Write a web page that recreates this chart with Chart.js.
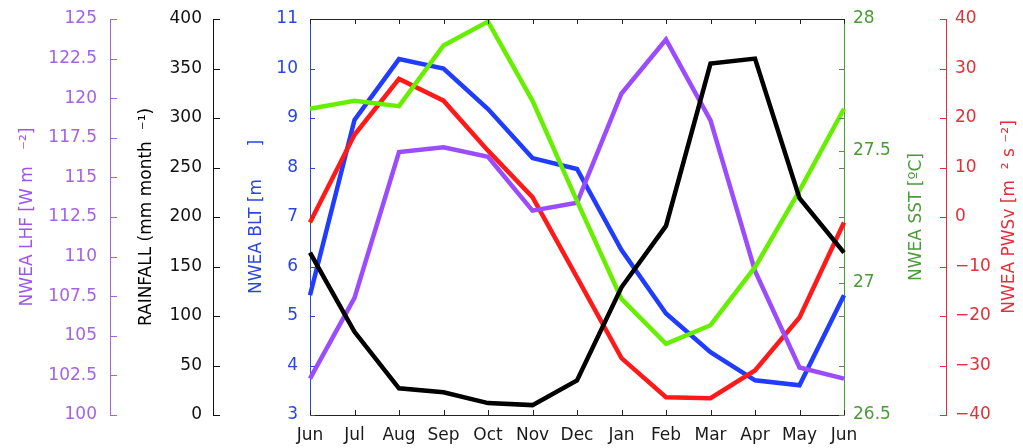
<!DOCTYPE html>
<html>
<head>
<meta charset="utf-8">
<script src="https://cdn.jsdelivr.net/npm/chart.js@4.4.1/dist/chart.umd.min.js"></script>
<style>
  html, body { margin: 0; padding: 0; background: #fff; }
  #wrap { width: 1023px; height: 448px; }
</style>
</head>
<body>
<div id="wrap"><canvas id="nweaChart" width="1023" height="448"></canvas></div>
<script>
const months = ['Jun', 'Jul', 'Aug', 'Sep', 'Oct', 'Nov', 'Dec', 'Jan', 'Feb', 'Mar', 'Apr', 'May', 'Jun'];

// values
const lhf = [102.3, 107.4, 116.6, 116.9, 116.3, 112.9, 113.4, 120.3, 123.7, 118.6, 109.1, 103.0, 102.3];
const rainfall = [164, 84, 27, 23, 12, 10, 35, 129, 191, 355, 360, 219, 164];
const blt = [5.42, 8.96, 10.19, 10.0, 9.18, 8.19, 7.97, 6.33, 5.05, 4.27, 3.7, 3.6, 5.42];
const sst = [27.66, 27.69, 27.67, 27.9, 27.99, 27.69, 27.31, 26.94, 26.77, 26.84, 27.06, 27.35, 27.66];
const pwsv = [-1.1, 16.6, 27.9, 23.5, 13.4, 4.0, -12.2, -28.5, -36.4, -36.6, -31, -20.3, -1.1];

const FONT = '"DejaVu Sans", sans-serif';

const colors = {
    lhf: { line: '#9b4cff', axis: '#a463e6' },
    rain: { line: '#000000', axis: '#111111' },
    blt: { line: '#1f3cff', axis: '#2a46e0' },
    sst: { line: '#66f000', axis: '#4c9a38' },
    pwsv: { line: '#ff1a1a', axis: '#e2303a' }
};

// fixed box widths so the axes sit where they do in the figure
function fixWidth(w) {
    return (scale) => {
        scale.width = w;
        scale.paddingTop = 0;
        scale.paddingBottom = 0;
    };
}

function yAxis(position, weight, min, max, step, col, width, pad) {
    return {
        type: 'linear',
        position: position,
        weight: weight,
        min: min,
        max: max,
        afterFit: fixWidth(width),
        grid: { drawOnChartArea: false, drawTicks: false },
        border: { display: true, color: col, width: 1 },
        ticks: {
            stepSize: step,
            padding: pad,
            color: col,
            font: { family: FONT, size: 17 },
            callback: (v) => String(v).replace('-', '\u2212')
        }
    };
}

// inward tick marks like the original figure
const tickMarks = {
    id: 'tickMarks',
    afterDraw(chart) {
        const ctx = chart.ctx;
        const area = chart.chartArea;
        const s = chart.scales;
        ctx.save();
        ctx.lineWidth = 1;

        function mark(x1, y1, x2, y2, col) {
            ctx.strokeStyle = col;
            ctx.beginPath();
            ctx.moveTo(x1, y1);
            ctx.lineTo(x2, y2);
            ctx.stroke();
        }

        s.yLhf.ticks.forEach(t => {
            const y = Math.round(s.yLhf.getPixelForValue(t.value)) + 0.5;
            mark(s.yLhf.right, y, s.yLhf.right + 7, y, colors.lhf.axis);
        });
        s.yRain.ticks.forEach(t => {
            const y = Math.round(s.yRain.getPixelForValue(t.value)) + 0.5;
            mark(s.yRain.right, y, s.yRain.right + 7, y, colors.rain.axis);
        });
        s.yPwsv.ticks.forEach(t => {
            const y = Math.round(s.yPwsv.getPixelForValue(t.value)) + 0.5;
            mark(s.yPwsv.left - 6, y, s.yPwsv.left, y, colors.pwsv.axis);
        });
        s.yBlt.ticks.forEach(t => {
            const y = Math.round(s.yBlt.getPixelForValue(t.value)) + 0.5;
            mark(area.left, y, area.left + 5, y, colors.blt.axis);
            mark(area.right - 5, y, area.right, y, '#6a7a6a');
        });
        s.ySst.ticks.forEach(t => {
            const y = Math.round(s.ySst.getPixelForValue(t.value)) + 0.5;
            mark(area.right - 5, y, area.right, y, colors.sst.axis);
        });
        s.x.ticks.forEach((t, i) => {
            const x = Math.round(s.x.getPixelForTick(i)) + 0.5;
            mark(x, area.top, x, area.top + 5, '#222');
            mark(x, area.bottom - 5, x, area.bottom, '#222');
        });

        // top edge of the box
        mark(area.left, Math.round(area.top) + 0.5, area.right, Math.round(area.top) + 0.5, '#222');

        // right-hand titles read bottom to top
        const titles = [
            { scale: s.ySst, text: 'NWEA SST [\u00baC]', col: colors.sst.axis, off: 29 },
            { scale: s.yPwsv, text: 'NWEA PWSv [m  \u00b2 s \u207b\u00b2]', col: colors.pwsv.axis, off: 13 }
        ];
        titles.forEach(tt => {
            ctx.save();
            ctx.translate(tt.scale.right - tt.off, (area.top + area.bottom) / 2);
            ctx.rotate(-Math.PI / 2);
            ctx.fillStyle = tt.col;
            ctx.font = '17px ' + FONT;
            ctx.textAlign = 'center';
            ctx.textBaseline = 'middle';
            ctx.fillText(tt.text, 0, 0);
            ctx.restore();
        });
        ctx.restore();
    }
};

function lineSet(label, data, axis, col, order) {
    return {
        label: label,
        data: data,
        yAxisID: axis,
        borderColor: col,
        backgroundColor: col,
        borderWidth: 4.5,
        pointRadius: 0,
        tension: 0,
        fill: false,
        order: order
    };
}

const lhfAxis = yAxis('left', 2, 100, 125, 2.5, colors.lhf.axis, 110, 13);
lhfAxis.title = { display: true, text: 'NWEA LHF [W m   \u207b\u00b2]', color: '#9d55ee', font: { family: FONT, size: 17 }, padding: { top: 17, bottom: 0 } };

const rainAxis = yAxis('left', 1, 0, 400, 50, colors.rain.axis, 103, 11);
rainAxis.title = { display: true, text: 'RAINFALL (mm month  \u207b\u00b9)', color: '#000', font: { family: FONT, size: 17 }, padding: { top: 26, bottom: 0 } };

const bltAxis = yAxis('left', 0, 3, 11, 1, colors.blt.axis, 97, 12);
bltAxis.title = { display: true, text: 'NWEA BLT [m      ]', color: colors.blt.axis, font: { family: FONT, size: 17 }, padding: { top: 33, bottom: 0 } };

const sstAxis = yAxis('right', 0, 26.5, 28, 0.5, colors.sst.axis, 102, 9);
const pwsvAxis = yAxis('right', 1, -40, 40, 10, colors.pwsv.axis, 77, 9);

chart = new Chart(document.getElementById('nweaChart').getContext('2d'), {
    type: 'line',
    data: {
        labels: months,
        datasets: [
            lineSet('Rainfall', rainfall, 'yRain', colors.rain.line, 0),
            lineSet('SST', sst, 'ySst', colors.sst.line, 1),
            lineSet('LHF', lhf, 'yLhf', colors.lhf.line, 2),
            lineSet('PWSv', pwsv, 'yPwsv', colors.pwsv.line, 3),
            lineSet('BLT', blt, 'yBlt', colors.blt.line, 4)
        ]
    },
    options: {
        responsive: false,
        animation: false,
        layout: { padding: { top: 19, left: 0, right: 0, bottom: 0 } },
        plugins: {
            legend: { display: false },
            tooltip: { enabled: false }
        },
        scales: {
            x: {
                type: 'category',
                offset: false,
                afterFit: (scale) => { scale.height = 33; },
                grid: { drawOnChartArea: false, drawTicks: false },
                border: { display: true, color: '#222', width: 1 },
                ticks: {
                    padding: 10,
                    color: '#1a1a1a',
                    maxRotation: 0,
                    autoSkip: false,
                    font: { family: FONT, size: 17 }
                }
            },
            yBlt: bltAxis,
            yRain: rainAxis,
            yLhf: lhfAxis,
            ySst: sstAxis,
            yPwsv: pwsvAxis
        }
    },
    plugins: [tickMarks]
});
</script>
</body>
</html>
